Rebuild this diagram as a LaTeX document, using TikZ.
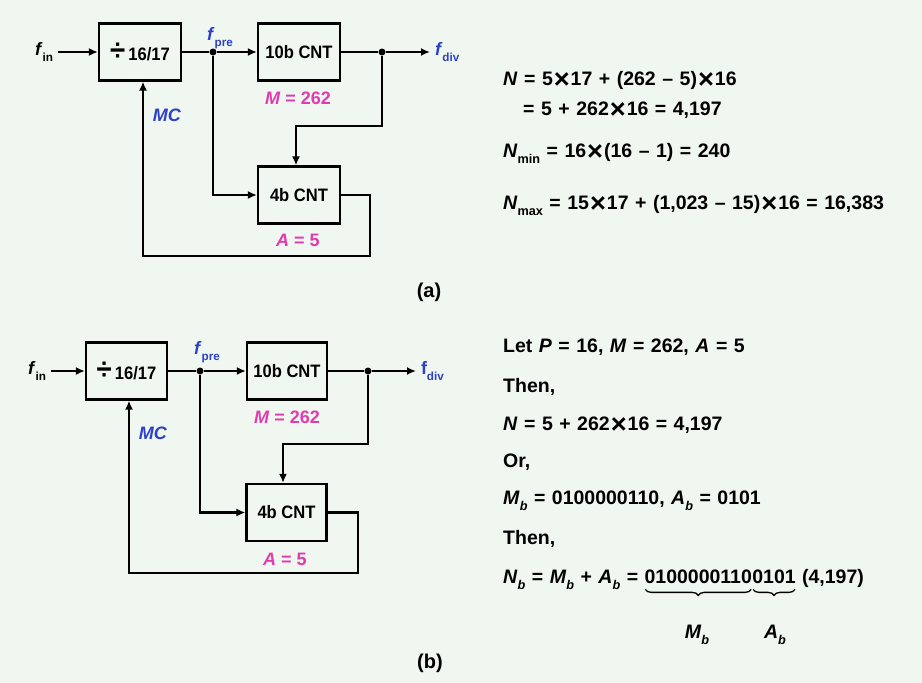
\documentclass[tikz,border=0pt]{standalone}
\usepackage{fontspec}
\usepackage{graphicx}
\setmainfont{Liberation Sans}
\newfontfamily\eqf{Liberation Sans}[WordSpace=1.2]
\newfontfamily\boxf{Liberation Sans}[FakeStretch=0.92]
\usetikzlibrary{arrows.meta,decorations.pathreplacing}
\definecolor{bg}{RGB}{240,246,240}
\definecolor{lblue}{RGB}{45,65,200}
\definecolor{lmag}{RGB}{225,60,175}
\newcommand\sbs[1]{\raisebox{-0.32em}{\scalebox{0.65}{#1}}}
\newcommand\tms{\hspace{0.05em}\raisebox{-0.17em}{\scalebox{1.4}{×}}\hspace{0.05em}}
\newcommand\dv{\raisebox{-0.04em}{\fontsize{30}{30}\selectfont ÷}}
\begin{document}
\begin{tikzpicture}[x=1pt,y=-1pt,
  blk/.style={draw,line width=2.2pt,minimum width=82pt,minimum height=57pt,inner sep=0pt,font=\boxf\fontsize{18}{18}\selectfont\bfseries},
  wire/.style={line width=2.2pt},
  arr/.style={wire,-{Latex[length=9pt,width=8pt]}},
  lbl/.style={font=\fontsize{18}{18}\selectfont\bfseries,inner sep=0pt},
  io/.style={lbl,outer sep=5pt},
  captxt/.style={font=\fontsize{20}{20}\selectfont\bfseries,inner sep=0pt},
  eq/.style={font=\eqf\fontsize{19.5}{19.5}\selectfont\bfseries,inner sep=0pt,anchor=base west},
  brc/.style={line width=1.3pt,decorate,decoration={brace,mirror,amplitude=6pt}},
  dot/.style={circle,fill,inner sep=0pt,minimum size=7pt}]
\fill[bg] (0,0) rectangle (922,683);
\useasboundingbox (0,0) rectangle (922,683);

% ---------- (a) ----------
\node[blk] (divA) at (140,52) {\dv\,16/17};
\node[blk] (cntA) at (299,52) {10b CNT};
\node[blk] (cnt4A) at (299,195) {4b CNT};
\node[io] (finA) at (44,52) {\textit{f}\sbs{in}};
\node[io,text=lblue,anchor=west] (fdivA) at (430,52) {\textit{f}\sbs{div}};
\node[dot] (dotpA) at (213,52) {};
\node[dot] (dotdA) at (382,52) {};
\coordinate (turnA) at (296,126);
\coordinate (retA) at (370,256);
\draw[arr] (finA) -- (divA);
\draw[wire] (divA) -- (dotpA);
\draw[arr] (dotpA) -- (cntA);
\draw[wire] (cntA) -- (dotdA);
\draw[arr] (dotdA) -- (fdivA);
\draw[arr] (dotdA) |- (turnA) -- (turnA |- cnt4A.north);
\draw[arr] (dotpA) |- (cnt4A.west);
\draw[arr] (cnt4A.east) -| (retA) -| ([xshift=3pt]divA.south);
\node[lbl,text=lblue] (fpreA) at (220,38) {\textit{f}\sbs{pre}};
\node[lbl,text=lmag] (mA) at (298,98) {\textit{M} = 262};
\node[lbl,text=lblue] (mcA) at (167,115) {\textit{MC}};
\node[lbl,text=lmag] (aA) at (298,240) {\textit{A} = 5};
\node[captxt] (capA) at (429,292) {(a)};

\node[eq] (eqa1) at (503,85) {\textit{N} = 5\tms17 + (262 – 5)\tms16};
\node[eq] (eqa2) at (523,115) {= 5 + 262\tms16 = 4,197};
\node[eq] (eqa3) at (503,157) {\textit{N}\sbs{min} = 16\tms(16 – 1) = 240};
\node[eq] (eqa4) at (503,209) {\textit{N}\sbs{max} = 15\tms17 + (1,023 – 15)\tms16 = 16,383};

% ---------- (b) ----------
\node[blk,minimum width=81pt] (divB) at (126.5,371) {\dv\,16/17};
\node[blk,minimum width=80pt] (cntB) at (287,371) {10b CNT};
\node[blk,minimum width=80pt] (cnt4B) at (286.5,512.5) {4b CNT};
\node[io] (finB) at (37,371) {\textit{f}\sbs{in}};
\node[io,text=lblue,anchor=west] (fdivB) at (416,371) {f\sbs{div}};
\node[dot] (dotpB) at (200,371) {};
\node[dot] (dotdB) at (368,371) {};
\coordinate (turnB) at (283,444);
\coordinate (retB) at (358,573);
\draw[arr] (finB) -- (divB);
\draw[wire] (divB) -- (dotpB);
\draw[arr] (dotpB) -- (cntB);
\draw[wire] (cntB) -- (dotdB);
\draw[arr] (dotdB) -- (fdivB);
\draw[arr] (dotdB) |- (turnB) -- (turnB |- cnt4B.north);
\draw[arr] (dotpB) |- (cnt4B.west);
\draw[arr] (cnt4B.east) -| (retB) -| ([xshift=2.5pt]divB.south);
\node[lbl,text=lblue] (fpreB) at (207,352) {\textit{f}\sbs{pre}};
\node[lbl,text=lmag] (mB) at (287,417) {\textit{M} = 262};
\node[lbl,text=lblue] (mcB) at (153,433) {\textit{MC}};
\node[lbl,text=lmag] (aB) at (285,559) {\textit{A} = 5};
\node[captxt] (capB) at (430,663) {(b)};

\node[eq] (eqb1) at (503,352) {Let \textit{P} = 16, \textit{M} = 262, \textit{A} = 5};
\node[eq] (eqb2) at (503,392) {Then,};
\node[eq] (eqb3) at (503,430) {\textit{N} = 5 + 262\tms16 = 4,197};
\node[eq] (eqb4) at (503,467) {Or,};
\node[eq] (eqb5) at (503,504) {\textit{M}\sbs{\textit{b}} = 0100000110, \textit{A}\sbs{\textit{b}} = 0101};
\node[eq] (eqb6) at (503,544) {Then,};
\node[eq] (nbpre) at (503,583) {\textit{N}\sbs{\textit{b}} = \textit{M}\sbs{\textit{b}} + \textit{A}\sbs{\textit{b}} =};
\node[eq] (binM) at ([xshift=6pt]nbpre.base east) {0100000110};
\node[eq] (binA) at (binM.base east) {0101};
\node[eq] (dec) at ([xshift=6pt]binA.base east) {(4,197)};
\draw[brc] ([yshift=-6pt,xshift=1pt]binM.south west) -- ([yshift=-6pt,xshift=-1pt]binM.south east);
\draw[brc] ([yshift=-6pt,xshift=1pt]binA.south west) -- ([yshift=-6pt,xshift=-1pt]binA.south east);
\node[eq,anchor=base] (lblM) at (697,638) {\textit{M}\sbs{\textit{b}}};
\node[eq,anchor=base] (lblA) at (775,638) {\textit{A}\sbs{\textit{b}}};
\end{tikzpicture}
\end{document}
